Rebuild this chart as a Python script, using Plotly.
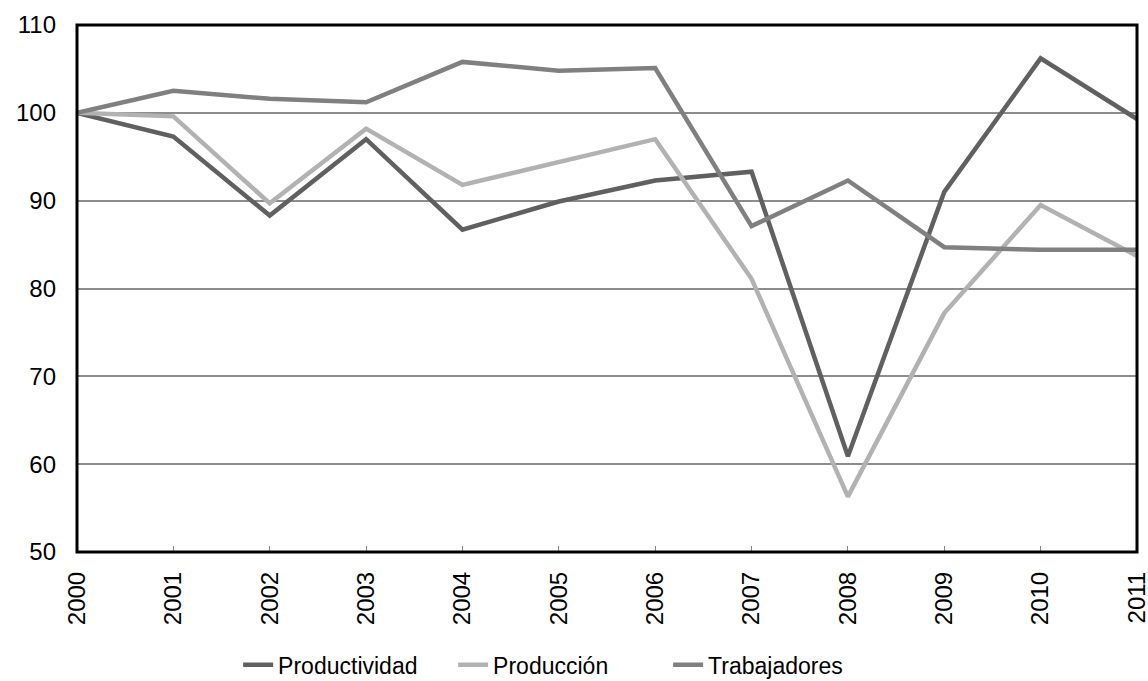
import plotly.graph_objects as go

years = ["2000", "2001", "2002", "2003", "2004", "2005", "2006", "2007", "2008", "2009", "2010", "2011"]
productividad = [100, 97.3, 88.3, 97.0, 86.7, 89.9, 92.3, 93.3, 60.9, 91.0, 106.2, 99.3]
produccion = [100, 99.6, 89.7, 98.2, 91.8, 94.4, 97.0, 81.1, 56.3, 77.2, 89.5, 83.7]
trabajadores = [100, 102.5, 101.6, 101.2, 105.8, 104.8, 105.1, 87.1, 92.3, 84.7, 84.4, 84.4]

series = [
    ("Productividad", productividad, "#606060"),
    ("Producción", produccion, "#b2b2b2"),
    ("Trabajadores", trabajadores, "#808080"),
]

fig = go.Figure()
for name, vals, color in series:
    fig.add_trace(go.Scatter(
        x=list(range(len(years))), y=vals, name=name, mode="lines",
        line=dict(color=color, width=4.5),
    ))

fig.update_layout(
    width=1148, height=681,
    margin=dict(l=77, r=11, t=25, b=129, autoexpand=False),
    paper_bgcolor="white", plot_bgcolor="white",
    font=dict(family="Liberation Sans, Arial, sans-serif", size=24, color="black"),
    showlegend=True,
    legend=dict(orientation="h", x=0.152, xanchor="left", y=-0.214, yanchor="middle",
                font=dict(size=23), tracegroupgap=0, entrywidth=170, entrywidthmode="pixels"),
    xaxis=dict(
        range=[0, len(years) - 1], tickmode="array",
        tickvals=list(range(len(years))), ticktext=years, tickangle=-90,
        showgrid=False, zeroline=False, ticks="inside", ticklen=6, tickcolor="#888888",
        showline=False, automargin=False, tickfont=dict(size=24),
        ticklabeloverflow="allow", ticklabelstandoff=14,
    ),
    yaxis=dict(
        range=[50, 110], dtick=10, showgrid=True, gridcolor="#8c8c8c", gridwidth=1.5,
        zeroline=False, ticks="", showline=False, automargin=False, tickfont=dict(size=24),
        ticklabelstandoff=20,
    ),
    shapes=[dict(type="rect", xref="paper", yref="paper", x0=0, x1=1, y0=0, y1=1,
                 line=dict(color="black", width=3))],
)

fig.write_html("out.html")
